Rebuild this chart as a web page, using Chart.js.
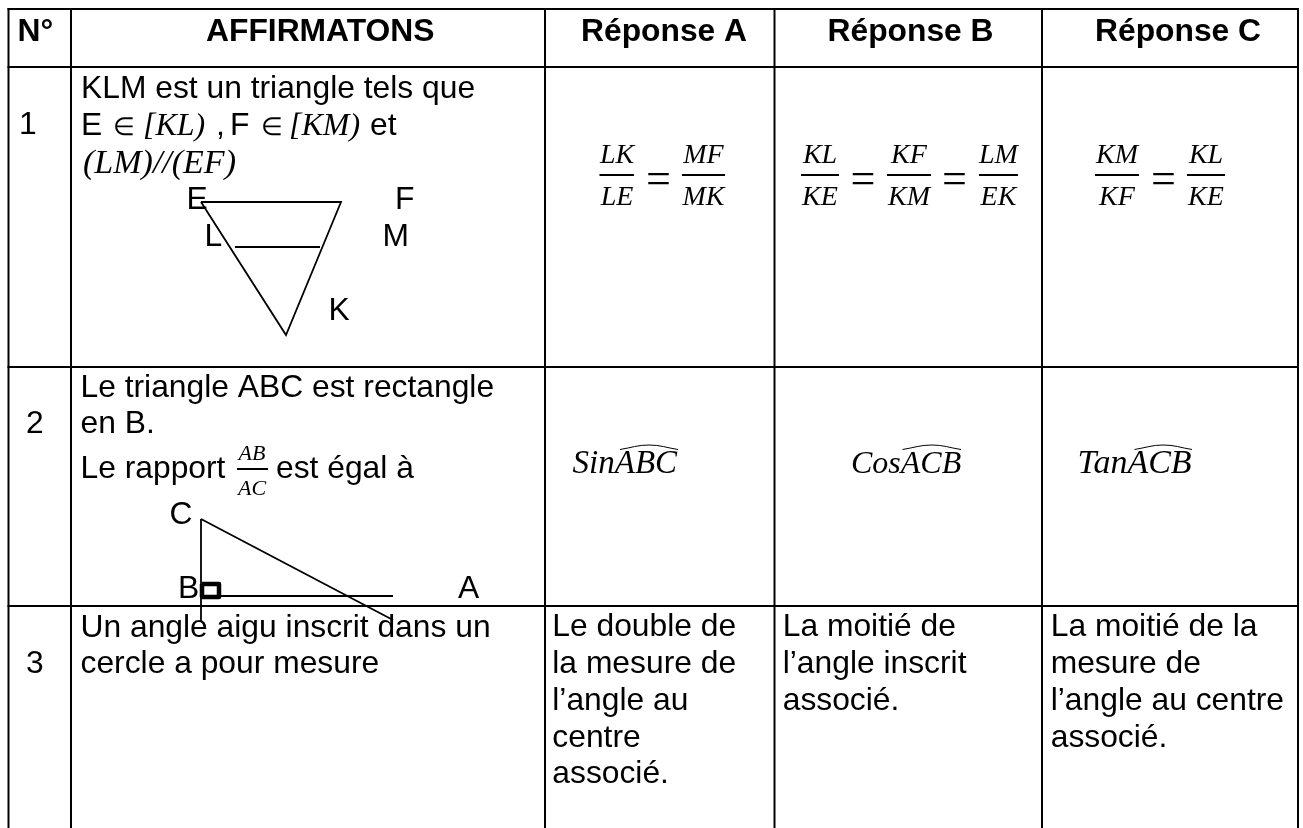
<!DOCTYPE html>
<html lang="fr"><head><meta charset="utf-8">
<style>html,body{margin:0;padding:0;background:#fff;overflow:hidden}canvas{display:block}</style>
<script src="https://cdn.jsdelivr.net/npm/chart.js@4"></script>
</head><body><canvas id="c" width="1303" height="828"></canvas>
<script>
// Table grid
const columnEdges = [8.5, 71, 545, 774.5, 1042, 1298];
const rowEdges = [9, 67, 367, 606];
const pageBottom = 828;
// Figure 1 : triangle KEF and segment LM
const triangleEFK = [[201,202],[341,202],[286,335],[201,202]];
const segmentLM = [[235,247],[320,247]];
// Figure 2 : triangle ABC
const sideCB = [[201,519],[201,622]];
const sideCA = [[201,519],[393,620]];
const sideBA = [[201,596],[393,596]];
const rightAngleMark = [[202,584],[219,584],[219,597],[202,597],[202,584]];
// Fraction bars and angle hats
const fractionBars = [[237,268,469],[599.5,634,175],[682,725,175],[801,839,175],[887,931,175],[979,1018,175],[1095,1139,175],[1187,1225,175]];
const hats = [[620,678],[902.5,961],[1134.5,1192]];
const hatBase = 449.5, hatTop = 445;

// Text content
const headers = ['N°','AFFIRMATONS','Réponse A','Réponse B','Réponse C'];
const rowNumbers = ['1','2','3'];
const statement1 = ['KLM est un triangle tels que','E','∈','[KL)',',','F','∈','[KM)','et','(LM)//(EF)'];
const figure1Labels = ['E','F','L','M','K'];
const statement2 = ['Le triangle ABC est rectangle','en B.','Le rapport','est égal à','AB','AC'];
const figure2Labels = ['C','B','A'];
const statement3 = ['Un angle aigu inscrit dans un','cercle a pour mesure'];
const fractions = ['LK','LE','MF','MK','KL','KE','KF','KM','LM','EK','KM','KF','KL','KE'];
const trig = ['SinABC','CosACB','TanACB'];
const answerA3 = ['Le double de','la mesure de','l’angle au','centre','associé.'];
const answerB3 = ['La moitié de','l’angle inscrit','associé.'];
const answerC3 = ['La moitié de la','mesure de','l’angle au centre','associé.'];

const SANS='"Liberation Sans"', MATH='"Liberation Serif"';
const f=(s)=>s+'px '+SANS, fb=(s)=>'bold '+s+'px '+SANS, fi=(s)=>'italic '+s+'px '+MATH;
const T=[]; // [text,x,baseline,font,align]
const add=(t,x,y,font,al)=>T.push([t,x,y,font,al||'left']);
const S=31.8;
[17.5,206,581,827.5,1095].forEach((x,i)=>add(headers[i],x,40.5,fb(S)));
[[19,134],[26,433],[26,673]].forEach((p,i)=>add(rowNumbers[i],p[0],p[1],f(S)));
const s1Pos=[[81,98],[81,135],[113,135],[143,135],[216,135],[230,135],[261,135],[289,135],[370,135],[83,173]];
statement1.forEach((t,i)=>{
  const font = t==='∈' ? f(25) : t.startsWith('[')||t.startsWith('(') ? fi(t.startsWith('(')?34:32) : f(S);
  add(t,s1Pos[i][0],s1Pos[i][1],font);
});
[[186.6,209],[395,209],[204.6,246],[382.6,246],[328.6,320]].forEach((p,i)=>add(figure1Labels[i],p[0],p[1],f(S)));
add(statement2[0],80.5,397,f(S));
add(statement2[1],80.5,433,f(S));
add(statement2[2],80.5,478,f(S));
add(statement2[3],276,478,f(S));
add(statement2[4],252,460,fi(22),'center');
add(statement2[5],252,495,fi(22),'center');
[[169.5,524],[178,598],[458,598]].forEach((p,i)=>add(figure2Labels[i],p[0],p[1],f(S)));
add(statement3[0],80.5,637,f(S));
add(statement3[1],80.5,673,f(S));
const cx=[617,617,703.5,703.5,820,820,909,909,998.5,998.5,1117,1117,1206,1206];
fractions.forEach((t,i)=>add(t,cx[i],i%2?205:163,fi(28),'center'));
[658,862.5,954,1163].forEach(x=>add('=',x,192.5,fi(44),'center'));
[[572.6,33],[851,32],[1077.6,34]].forEach((p,i)=>add(trig[i],p[0],472.5,fi(p[1])));
const ys=[636,673,710,747,783];
answerA3.forEach((t,i)=>add(t,552.3,ys[i],f(S)));
answerB3.forEach((t,i)=>add(t,782.7,ys[i],f(S)));
answerC3.forEach((t,i)=>add(t,1050.7,ys[i],f(S)));

const pts=a=>a.map(p=>({x:p[0],y:p[1]}));
const ds=(a,w,extra)=>Object.assign({data:pts(a),borderColor:'#000',borderWidth:w,pointRadius:0,fill:false,showLine:true,tension:0,clip:false,borderCapStyle:'butt',borderJoinStyle:'miter'},extra||{});
const datasets=[];
columnEdges.forEach(x=>datasets.push(ds([[x,8],[x,pageBottom]],2)));
rowEdges.forEach(y=>datasets.push(ds([[columnEdges[0]-1,y],[columnEdges[5]+1,y]],2)));
datasets.push(ds(triangleEFK,1.8),ds(segmentLM,1.8),ds(sideCB,1.8),ds(sideCA,1.8),ds(sideBA,1.8),ds(rightAngleMark,4.5,{borderJoinStyle:'round'}));
fractionBars.forEach(b=>datasets.push(ds([[b[0],b[2]],[b[1],b[2]]],2)));
hats.forEach(h=>datasets.push(ds([[h[0],hatBase],[(h[0]+h[1])/2,hatTop],[h[1],hatBase]],1,{tension:0.4})));

const textPlugin={id:'tableText',afterDatasetsDraw(ch){
  const c=ch.ctx,sx=ch.scales.x,sy=ch.scales.y;
  c.save();c.fillStyle='#000';c.textBaseline='alphabetic';
  T.forEach(t=>{c.font=t[3];c.textAlign=t[4];c.fillText(t[0],sx.getPixelForValue(t[1]),sy.getPixelForValue(t[2]));});
  c.restore();
}};
new Chart(document.getElementById('c'),{type:'scatter',data:{datasets},plugins:[textPlugin],options:{
  responsive:false,animation:false,events:[],layout:{padding:0},
  plugins:{legend:{display:false},tooltip:{enabled:false},title:{display:false}},
  scales:{x:{type:'linear',display:false,min:0,max:1303},y:{type:'linear',display:false,min:0,max:828,reverse:true}}
}});
</script></body></html>
